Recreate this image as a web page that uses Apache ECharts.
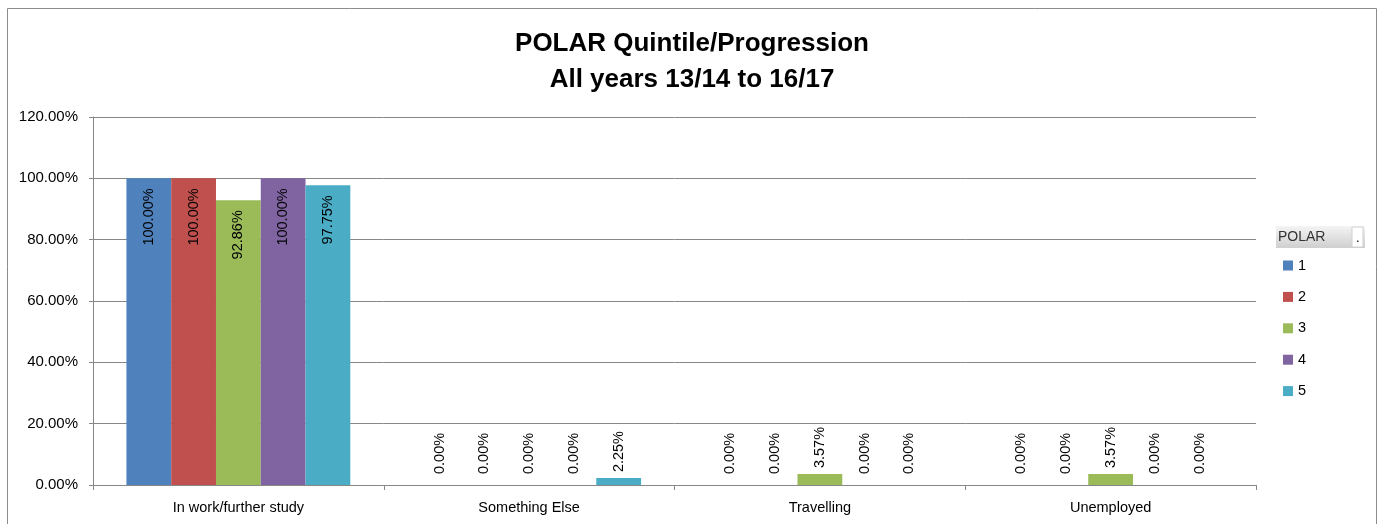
<!DOCTYPE html>
<html>
<head>
<meta charset="utf-8">
<script src="https://cdn.jsdelivr.net/npm/echarts@6/dist/echarts.min.js"></script>
<style>
  html, body { margin: 0; padding: 0; background: #fff; }
  #main { width: 1384px; height: 524px; }
</style>
</head>
<body>
<div id="main"></div>
<script>
// categories on the x axis
var categories = ['In work/further study', 'Something Else', 'Travelling', 'Unemployed'];
// POLAR quintiles (legend)
var quintiles = ['1', '2', '3', '4', '5'];
// percentages per quintile, one value per category
var q1 = [100, 0, 0, 0];
var q2 = [100, 0, 0, 0];
var q3 = [92.86, 0, 3.57, 3.57];
var q4 = [100, 0, 0, 0];
var q5 = [97.75, 2.25, 0, 0];
var yTicks = [0, 20, 40, 60, 80, 100, 120];

var colors = ['#4F81BD', '#C0504D', '#9BBB59', '#8064A2', '#4BACC6'];
var font = 'Liberation Sans';

var chart = echarts.init(document.getElementById('main'));

function makeData(vals) {
  return vals.map(function (v) {
    // big bars get the label inside the top, small ones above the bar
    if (v > 50) {
      return { value: v, label: { position: 'insideTop', align: 'right', distance: 10 } };
    }
    return { value: v, label: { position: 'top', align: 'left', distance: v > 0 ? 6 : 11 } };
  });
}

var allSeries = [q1, q2, q3, q4, q5].map(function (vals, i) {
  return {
    name: quintiles[i],
    type: 'bar',
    barGap: '0%',
    barCategoryGap: '23%',
    itemStyle: { color: colors[i] },
    label: {
      show: true,
      rotate: 90,
      verticalAlign: 'middle',
      color: '#000',
      fontFamily: font,
      fontSize: 14.5,
      formatter: function (p) { return p.value.toFixed(2) + '%'; }
    },
    data: makeData(vals)
  };
});

chart.setOption({
  animation: false,
  textStyle: { fontFamily: font },
  title: {
    text: 'POLAR Quintile/Progression\nAll years 13/14 to 16/17',
    left: 'center',
    top: 21,
    textStyle: { fontFamily: font, fontSize: 26, fontWeight: 'bold', color: '#000', lineHeight: 36 }
  },
  legend: {
    orient: 'vertical',
    left: 1278,
    top: 253,
    icon: 'rect',
    itemWidth: 10,
    itemHeight: 10,
    itemGap: 16.4,
    textStyle: { fontSize: 14.5, color: '#000', fontFamily: font },
    data: quintiles
  },
  grid: { left: 93, right: 128, top: 117, bottom: 39 },
  xAxis: {
    type: 'category',
    data: categories,
    axisLine: { lineStyle: { color: '#888' } },
    axisTick: { show: true, length: 5, lineStyle: { color: '#888' } },
    axisLabel: { color: '#000', fontSize: 14.5, margin: 15, fontFamily: font }
  },
  yAxis: {
    type: 'value',
    min: yTicks[0],
    max: yTicks[yTicks.length - 1],
    interval: yTicks[1] - yTicks[0],
    axisLine: { show: true, lineStyle: { color: '#888' } },
    axisTick: { show: true, length: 4, lineStyle: { color: '#888' } },
    splitLine: { lineStyle: { color: '#888' } },
    axisLabel: {
      color: '#000', fontSize: 15, margin: 15, fontFamily: font,
      formatter: function (v) { return v.toFixed(2) + '%'; }
    }
  },
  graphic: [
    { type: 'rect', shape: { x: 7.5, y: 8.5, width: 1369, height: 530 },
      style: { fill: null, stroke: '#8c8c8c', lineWidth: 1 }, silent: true },
    { type: 'rect', shape: { x: 1276, y: 226, width: 89, height: 22 },
      style: {
        fill: new echarts.graphic.LinearGradient(0, 0, 0, 1, [
          { offset: 0, color: '#f4f4f4' }, { offset: 1, color: '#cfcfcf' }
        ])
      }, silent: true },
    { type: 'rect', shape: { x: 1352, y: 227, width: 11, height: 20 },
      style: { fill: '#fff', stroke: '#d0d0d0' }, silent: true },
    { type: 'text', x: 1278, y: 230,
      style: { text: 'POLAR', fontSize: 14, fontFamily: font, fill: '#333' }, silent: true },
    { type: 'text', x: 1356, y: 232,
      style: { text: '.', fontSize: 13, fontFamily: font, fill: '#000' }, silent: true }
  ],
  series: allSeries
});
</script>
</body>
</html>
